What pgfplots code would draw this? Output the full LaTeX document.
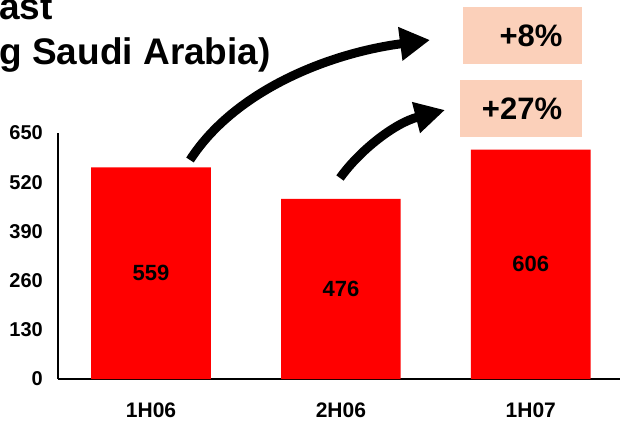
\documentclass[border=0pt]{standalone}
\usepackage{pgfplots}
\pgfplotsset{compat=1.18}
\usepackage{fontspec}
\setmainfont{Liberation Sans}
\usetikzlibrary{arrows.meta}
\definecolor{peach}{RGB}{251,208,186}
\begin{document}
\begin{tikzpicture}[x=1bp,y=1bp]
\useasboundingbox (0,0) rectangle (620,425);
\clip (0,0) rectangle (620,425);
\begin{axis}[at={(58bp,46bp)}, anchor=south west, scale only axis,
  width=562bp, height=246bp,
  xmin=-0.49, xmax=2.47, ymin=0, ymax=650,
  axis x line=bottom, axis y line=left,
  axis line style={-, line width=1.3bp, black},
  xtick={0,1,2}, xticklabels={1H06,2H06,1H07},
  ytick={0,130,...,650},
  major tick length=0pt,
  /pgf/number format/assume math mode=true,
  tick label style={font=\fontsize{20bp}{24bp}\selectfont\bfseries},
  yticklabel style={anchor=east, inner sep=0pt, xshift=-15bp},
  xticklabel style={anchor=north, inner sep=0pt, yshift=-24bp, font=\fontsize{21bp}{24bp}\selectfont\bfseries},
  clip=false,
]
\addplot[ybar, bar width=0.63, fill=red, draw=none] coordinates {(0,559) (1,476) (2,606)};
\addplot[draw=none, mark=none, nodes near coords, point meta=explicit symbolic,
  nodes near coords style={anchor=center, inner sep=0pt, font=\fontsize{22bp}{26bp}\selectfont\bfseries}]
  coordinates {(0,279.5) [559] (1,238) [476] (2,303) [606]};
\end{axis}
\draw[line width=9bp, -{Triangle[length=30bp, width=32bp]}] (190,265) .. controls (235,335) and (330,372) .. (430,385);
\draw[line width=9bp, -{Triangle[length=30bp, width=30bp]}] (340,247) .. controls (360,275) and (395,302) .. (445,315);
\fill[peach] (463,361) rectangle (582,418);
\fill[peach] (460,288) rectangle (582,345);
\node[font=\fontsize{31bp}{36bp}\selectfont\bfseries, inner sep=0pt] at (531,389) {+8\%};
\node[font=\fontsize{31bp}{36bp}\selectfont\bfseries, inner sep=0pt] at (522,316) {+27\%};
\node[anchor=base east, inner sep=0pt, font=\fontsize{37bp}{40bp}\selectfont\bfseries] at (53,405) {ast};
\node[anchor=base east, inner sep=0pt, font=\fontsize{37bp}{40bp}\selectfont\bfseries] at (271,361) {g Saudi Arabia)};
\end{tikzpicture}
\end{document}
